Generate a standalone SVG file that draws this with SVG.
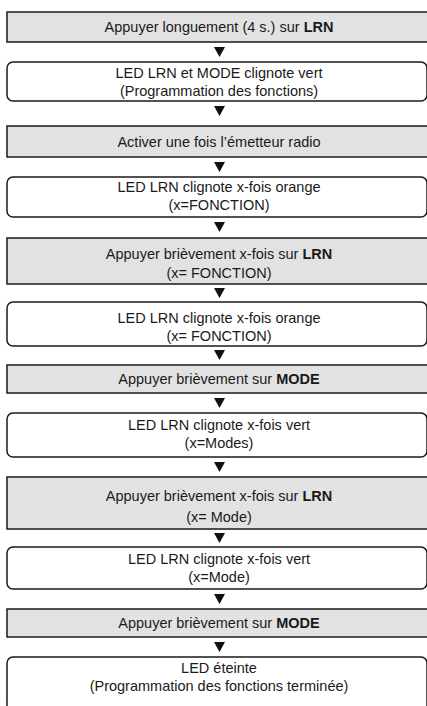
<svg xmlns="http://www.w3.org/2000/svg" width="427" height="706" viewBox="0 0 427 706">
<style>
.g{fill:#e2e2e2;stroke:#1a1a1a;stroke-width:1.5}
.r{fill:#ffffff;stroke:#1a1a1a;stroke-width:1.5}
text{font-family:"Liberation Sans",Arial,sans-serif;font-size:14.5px;fill:#1a1a1a;text-anchor:middle}
.b{font-weight:bold}
.a{fill:#111}
</style>
<rect width="427" height="706" fill="#ffffff"/>
<g id="connectors">
<polygon class="a" points="214,47 225,47 219.5,57"/>
<polygon class="a" points="214,106 225,106 219.5,116"/>
<polygon class="a" points="214,162 225,162 219.5,172"/>
<polygon class="a" points="214,222 225,222 219.5,232"/>
<polygon class="a" points="214,288 225,288 219.5,298"/>
<polygon class="a" points="214,350 225,350 219.5,360"/>
<polygon class="a" points="214,398 225,398 219.5,408"/>
<polygon class="a" points="214,462 225,462 219.5,472"/>
<polygon class="a" points="214,533 225,533 219.5,543"/>
<polygon class="a" points="214,594 225,594 219.5,604"/>
<polygon class="a" points="214,642 225,642 219.5,652"/>
</g>
<g id="n1"><rect class="g" x="7" y="12" width="430" height="30"/><text x="219" y="32">Appuyer longuement (4 s.) sur <tspan class="b">LRN</tspan></text></g>
<g id="n2"><rect class="r" x="7" y="62" width="420" height="39" rx="6"/><text x="219" y="78">LED LRN et MODE clignote vert</text><text x="219" y="96">(Programmation des fonctions)</text></g>
<g id="n3"><rect class="g" x="7" y="126" width="430" height="31"/><text x="219" y="147">Activer une fois l’émetteur radio</text></g>
<g id="n4"><rect class="r" x="7" y="177" width="420" height="40" rx="6"/><text x="219" y="192">LED LRN clignote x-fois orange</text><text x="219" y="210">(x=FONCTION)</text></g>
<g id="n5"><rect class="g" x="7" y="238" width="430" height="46"/><text x="219" y="259">Appuyer brièvement x-fois sur <tspan class="b">LRN</tspan></text><text x="219" y="278">(x= FONCTION)</text></g>
<g id="n6"><rect class="r" x="7" y="302" width="420" height="44" rx="6"/><text x="219" y="323">LED LRN clignote x-fois orange</text><text x="219" y="341">(x= FONCTION)</text></g>
<g id="n7"><rect class="g" x="7" y="365" width="430" height="28"/><text x="219" y="384">Appuyer brièvement sur <tspan class="b">MODE</tspan></text></g>
<g id="n8"><rect class="r" x="7" y="413" width="420" height="44" rx="6"/><text x="219" y="430">LED LRN clignote x-fois vert</text><text x="219" y="448">(x=Modes)</text></g>
<g id="n9"><rect class="g" x="7" y="477" width="430" height="52"/><text x="219" y="501">Appuyer brièvement x-fois sur <tspan class="b">LRN</tspan></text><text x="219" y="522">(x= Mode)</text></g>
<g id="n10"><rect class="r" x="7" y="547" width="420" height="42" rx="6"/><text x="219" y="564">LED LRN clignote x-fois vert</text><text x="219" y="582">(x=Mode)</text></g>
<g id="n11"><rect class="g" x="7" y="609" width="430" height="28"/><text x="219" y="628">Appuyer brièvement sur <tspan class="b">MODE</tspan></text></g>
<g id="n12"><rect class="r" x="7" y="657" width="420" height="60" rx="6"/><text x="219" y="673">LED éteinte</text><text x="219" y="691">(Programmation des fonctions terminée)</text></g>
</svg>
